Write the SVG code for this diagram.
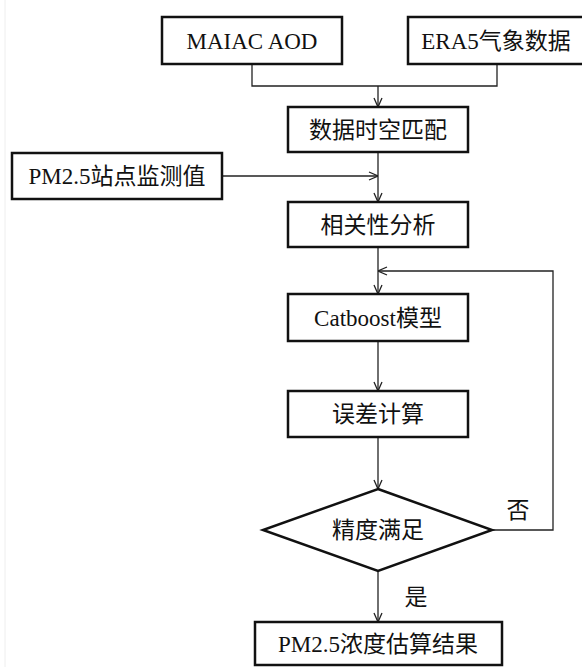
<svg xmlns="http://www.w3.org/2000/svg" width="582" height="667" viewBox="0 0 582 667">
<defs>
<style>
.box{fill:#fff;stroke:#111;stroke-width:2.5}
.t{font-family:"Liberation Serif","Noto Sans CJK SC",serif;font-size:23px;fill:#111;text-anchor:middle;dominant-baseline:central}
.c{fill:none;stroke:#222;stroke-width:1.3}
</style>
<marker id="ah" viewBox="0 0 10 10" refX="10" refY="5" markerWidth="10" markerHeight="10" markerUnits="userSpaceOnUse" orient="auto">
<path d="M1,1 L10,5 L1,9" fill="none" stroke="#222" stroke-width="1.3"/>
</marker>
</defs>
<rect width="582" height="667" fill="#fff"/>
<line x1="5" y1="0" x2="5" y2="667" stroke="#eeeeee" stroke-width="1"/>
<g id="connectors">
<path class="c" d="M252 64 V86 H497 V64"/>
<path class="c" d="M378 86 V107" marker-end="url(#ah)"/>
<path class="c" d="M378 152 V202" marker-end="url(#ah)"/>
<path class="c" d="M222 176 H378" marker-end="url(#ah)"/>
<path class="c" d="M378 247 V294" marker-end="url(#ah)"/>
<path class="c" d="M492 530 H553 V271 H378" marker-end="url(#ah)"/>
<path class="c" d="M378 341 V391" marker-end="url(#ah)"/>
<path class="c" d="M378 437 V489" marker-end="url(#ah)"/>
<path class="c" d="M378 571 V622" marker-end="url(#ah)"/>
<text class="t" x="518" y="510">否</text>
<text class="t" x="416" y="597">是</text>
</g>
<g id="maiac"><rect class="box" x="162" y="17" width="180" height="47"/><text class="t" x="252" y="41">MAIAC AOD</text></g>
<g id="era5"><rect class="box" x="408" y="17" width="190" height="47"/><text class="t" x="496" y="41">ERA5气象数据</text></g>
<g id="match"><rect class="box" x="288" y="107" width="180" height="45"/><text class="t" x="378" y="130">数据时空匹配</text></g>
<g id="pm25"><rect class="box" x="12" y="153" width="210" height="46"/><text class="t" x="117" y="176">PM2.5站点监测值</text></g>
<g id="corr"><rect class="box" x="288" y="202" width="180" height="45"/><text class="t" x="378" y="225">相关性分析</text></g>
<g id="catboost"><rect class="box" x="288" y="294" width="180" height="47"/><text class="t" x="378" y="318">Catboost模型</text></g>
<g id="error"><rect class="box" x="288" y="391" width="180" height="46"/><text class="t" x="378" y="414">误差计算</text></g>
<g id="decision"><polygon class="box" points="378,489 492,530 378,571 263,530"/><text class="t" x="378" y="530">精度满足</text></g>
<g id="result"><rect class="box" x="255" y="622" width="247" height="43"/><text class="t" x="378" y="644">PM2.5浓度估算结果</text></g>
</svg>
